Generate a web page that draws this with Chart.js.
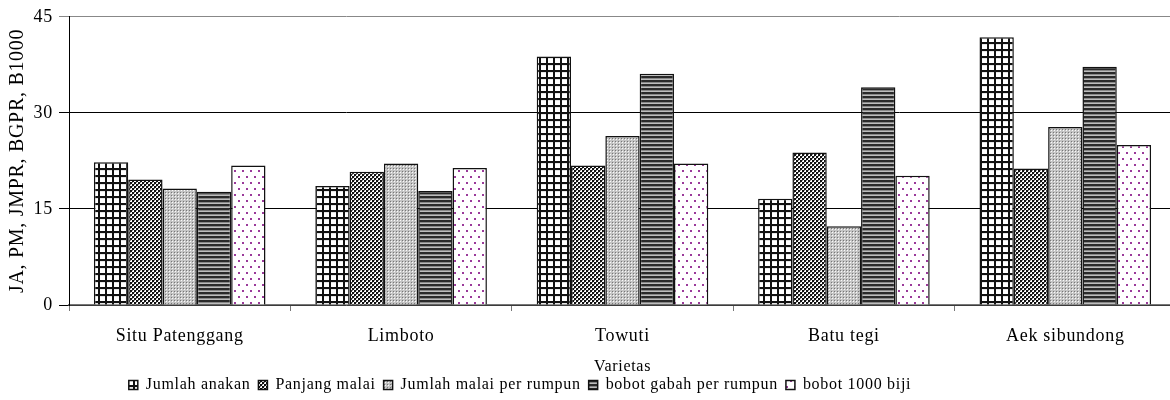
<!DOCTYPE html>
<html>
<head>
<meta charset="utf-8">
<script src="https://cdn.jsdelivr.net/npm/chart.js@4.4.0/dist/chart.umd.min.js"></script>
<style>
  html, body { margin: 0; padding: 0; background: #fff; overflow: hidden; }
  #wrap { width: 1176px; height: 400px; }
</style>
</head>
<body>
<div id="wrap"><canvas id="chart_varietas"></canvas></div>
<script>
// data
var varietas = ['Situ Patenggang', 'Limboto', 'Towuti', 'Batu tegi', 'Aek sibundong'];
var jumlahAnakan = [22.3, 18.6, 38.8, 16.6, 41.8];
var panjangMalai = [19.6, 20.8, 21.8, 23.8, 21.3];
var jumlahMalaiPerRumpun = [18.2, 22.1, 26.4, 12.3, 27.8];
var bobotGabahPerRumpun = [17.7, 17.8, 36.1, 34.0, 37.2];
var bobot1000Biji = [21.8, 21.4, 22.1, 20.2, 25.0];
var yTicks = [0, 15, 30, 45];

var serif = "'Liberation Serif', 'DejaVu Serif', serif";

function makePattern(w, h, paint) {
    var c = document.createElement('canvas');
    c.width = w;
    c.height = h;
    var g = c.getContext('2d');
    paint(g);
    return g.createPattern(c, 'repeat');
}

// grid of white squares
var patGrid = makePattern(7, 7, function(g) {
    g.fillStyle = '#fff'; g.fillRect(0, 0, 7, 7);
    g.fillStyle = '#e6e6e6'; g.fillRect(2, 2, 5, 1);
    g.fillStyle = '#111'; g.fillRect(0, 0, 7, 2); g.fillRect(0, 0, 2, 7);
});
// small checker
var patChecker = makePattern(4, 4, function(g) {
    g.fillStyle = '#fff'; g.fillRect(0, 0, 4, 4);
    g.fillStyle = '#111'; g.fillRect(0, 0, 2, 2); g.fillRect(2, 2, 2, 2);
    g.fillStyle = '#888'; g.fillRect(2, 0, 1, 1); g.fillRect(0, 2, 1, 1);
});
// fine light grey dots
var patDots = makePattern(3, 3, function(g) {
    g.fillStyle = '#c4c4c4'; g.fillRect(0, 0, 3, 3);
    g.fillStyle = '#fafafa'; g.fillRect(1, 1, 1, 1);
    g.fillStyle = '#777'; g.fillRect(0, 0, 1, 1);
});
// horizontal stripes
var patStripes = makePattern(4, 4, function(g) {
    g.fillStyle = '#bdbdbd'; g.fillRect(0, 0, 4, 4);
    g.fillStyle = '#2a2a2a'; g.fillRect(0, 0, 4, 2);
    g.fillStyle = '#888'; g.fillRect(0, 2, 4, 1);
});
// purple dots on white
var patPurple = makePattern(8, 12, function(g) {
    g.fillStyle = '#fff'; g.fillRect(0, 0, 8, 12);
    g.fillStyle = '#9a3a9a';
    g.fillRect(2, 2, 2, 2);
    g.fillRect(6, 8, 2, 2);
});

// the original text is a little wider than Liberation Serif
function spreadText(chart) {
    chart.ctx.letterSpacing = '0.7px';
}

var chart_varietas = new Chart(document.getElementById('chart_varietas'), {
    type: 'bar',
    data: {
        labels: varietas,
        datasets: [
            { label: 'Jumlah anakan', data: jumlahAnakan, backgroundColor: patGrid },
            { label: 'Panjang malai', data: panjangMalai, backgroundColor: patChecker },
            { label: 'Jumlah malai per rumpun', data: jumlahMalaiPerRumpun, backgroundColor: patDots },
            { label: 'bobot gabah per rumpun', data: bobotGabahPerRumpun, backgroundColor: patStripes },
            { label: 'bobot 1000 biji', data: bobot1000Biji, backgroundColor: patPurple }
        ]
    },
    options: {
        animation: false,
        responsive: true,
        maintainAspectRatio: false,
        layout: { padding: { top: 16, right: 0, bottom: 0, left: 0 } },
        datasets: {
            bar: {
                borderColor: '#111',
                borderWidth: 1.5,
                barPercentage: 1,
                categoryPercentage: 0.775
            }
        },
        plugins: {
            title: { display: false },
            tooltip: { enabled: false },
            legend: {
                position: 'bottom',
                labels: {
                    color: '#000',
                    font: { family: serif, size: 16 },
                    boxWidth: 9,
                    boxHeight: 9,
                    padding: 8
                }
            }
        },
        scales: {
            x: {
                offset: true,
                afterFit: function(scale) {
                    scale.height = 71;
                },
                title: {
                    display: true,
                    text: 'Varietas',
                    color: '#000',
                    font: { family: serif, size: 16 },
                    padding: { top: 10, bottom: 0 }
                },
                ticks: {
                    color: '#000',
                    font: { family: serif, size: 18 },
                    padding: 14,
                    maxRotation: 0
                },
                grid: {
                    offset: true,
                    drawOnChartArea: false,
                    drawTicks: true,
                    tickLength: 6,
                    color: '#777'
                },
                border: { color: '#777', width: 1.5 }
            },
            y: {
                min: 0,
                max: 45,
                afterBuildTicks: function(scale) {
                    scale.ticks = yTicks.map(function(v) { return { value: v }; });
                },
                afterFit: function(scale) {
                    scale.width = 69;
                },
                title: {
                    display: true,
                    text: 'JA, PM, JMPR, BGPR, B1000',
                    color: '#000',
                    font: { family: serif, size: 20 },
                    padding: { top: 6, bottom: 0 }
                },
                ticks: {
                    color: '#000',
                    font: { family: serif, size: 18 },
                    padding: 6
                },
                grid: {
                    color: function(ctx) { return ctx.tick && ctx.tick.value === 45 ? '#888' : '#000'; },
                    lineWidth: 1,
                    tickLength: 10
                },
                border: { color: '#000', width: 1 }
            }
        }
    },
    plugins: [{
        id: 'spacing',
        beforeUpdate: spreadText,
        beforeDraw: spreadText
    }, {
        id: 'legendPlace',
        beforeLayout: function(chart) {
            // let the legend take less room so the plot keeps its height
            var lg = chart.legend;
            if (lg && !lg._shortFit) {
                var fit = lg.fit;
                lg.fit = function() {
                    fit.call(this);
                    this.height = 24;
                };
                lg._shortFit = true;
            }
        },
        afterLayout: function(chart) {
            // the original legend sits left of the page centre, just under the axis title
            var lg = chart.legend;
            lg.left = 0;
            lg.right = 1040;
            lg.top = 369;
            lg.bottom = 400;
        }
    }, {
        id: 'whiteBg',
        beforeDraw: function(chart) {
            var ctx = chart.ctx;
            ctx.save();
            ctx.globalCompositeOperation = 'destination-over';
            ctx.fillStyle = 'white';
            ctx.fillRect(0, 0, chart.width, chart.height);
            ctx.restore();
        }
    }]
});
</script>
</body>
</html>
